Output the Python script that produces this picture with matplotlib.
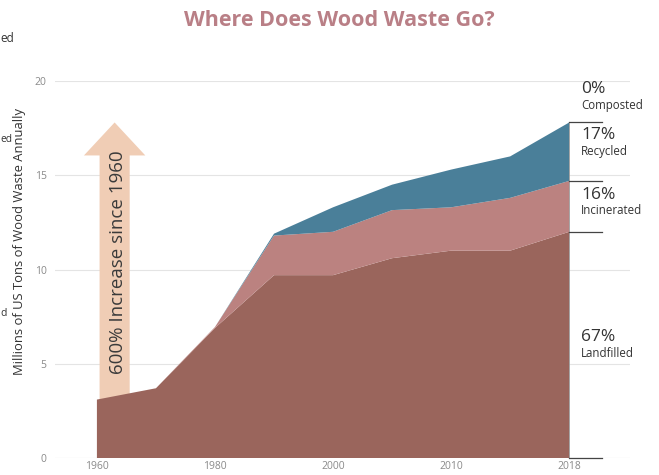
import matplotlib
matplotlib.use('Agg')
import matplotlib.pyplot as plt
from matplotlib.patches import FancyArrow
import numpy as np

# === DATA ===
years = ['1960', '1970', '1980', '1990', '2000', '2005', '2010', '2015', '2018']
landfilled = [3.1, 3.7, 6.9, 9.7, 9.7, 10.6, 11.0, 11.0, 12.0]
incinerated = [0.0, 0.0, 0.05, 2.1, 2.3, 2.55, 2.3, 2.8, 2.7]
recycled = [0.0, 0.0, 0.0, 0.1, 1.3, 1.35, 2.0, 2.2, 3.1]
composted = [0.0, 0.0, 0.0, 0.0, 0.0, 0.0, 0.0, 0.0, 0.0]
tick_years = ['1960', '1980', '2000', '2010', '2018']
shares = ['0%', '17%', '16%', '67%']
share_names = ['Composted', 'Recycled', 'Incinerated', 'Landfilled']

# === STYLE ===
C_LAND = '#9a655c'
C_INC = '#bb8280'
C_REC = '#4a7f99'
C_ARROW = '#f0cdb5'
plt.rcParams['font.family'] = ['Open Sans', 'DejaVu Sans']

fig = plt.figure(figsize=(6.59, 4.75), dpi=100)
ax = fig.add_axes([55 / 659, 17 / 475, 575 / 659, 377 / 475])

x = np.arange(len(years))
ax.stackplot(x, landfilled, incinerated, recycled, composted,
             colors=[C_LAND, C_INC, C_REC, C_REC], linewidth=0, zorder=1)
ax.set_xlim(-0.71, 9.03)
ax.set_ylim(0, 20)

# gridlines
for v in [5, 10, 15, 20]:
    ax.axhline(v, color='#e4e4e4', lw=0.8, zorder=0)
ax.axhline(0, color='#cfcfcf', lw=0.8, zorder=0)

total = np.sum([landfilled, incinerated, recycled, composted], axis=0)
ax.plot([x[-1], x[-1]], [0, total[-1]], color='#9a9a9a', lw=0.6, zorder=3)

for s in ax.spines.values():
    s.set_visible(False)
ax.tick_params(length=0, colors='#8a8a8a', labelsize=7.5)
ax.set_xticks([years.index(y) for y in tick_years])
ax.set_xticklabels(tick_years)
ax.set_yticks([0, 5, 10, 15, 20])
ax.set_yticklabels(['0', '5', '10', '15', '20'])
ax.tick_params(axis='x', pad=2)
ax.tick_params(axis='y', pad=6)
ax.set_ylabel('Millions of US Tons of Wood Waste Annually', fontsize=9.4,
              color='#333333')
ax.yaxis.set_label_coords(-29 / 575, 0.573)

# right-side markers
tops = np.cumsum([landfilled[-1], incinerated[-1], recycled[-1]])
for t in [0, tops[0], tops[1], tops[2]]:
    ax.plot([x[-1], x[-1] + 0.55], [t, t], color='#444444', lw=0.9,
            clip_on=False, zorder=4)

lx = x[-1] + 0.2
label_y = [20.0, tops[2] - 0.25, tops[1] - 0.3, 6.85]
for pct, name, yy in zip(shares, share_names, label_y):
    ax.text(lx, yy, pct, fontsize=12.5, color='#333333', va='top',
            clip_on=False)
    ax.text(lx, yy - 0.95, name, fontsize=8.3, color='#333333', va='top',
            clip_on=False)

# big arrow (sits behind the area so its foot tucks under the landfill band)
ax.add_patch(FancyArrow(0.3, 2.9, 0, 14.9, width=0.51, head_width=1.04,
                        head_length=1.75, length_includes_head=True,
                        color=C_ARROW, lw=0, zorder=0.5))
ax.text(0.36, 10.4, '600% Increase since 1960', rotation=90, fontsize=13.5,
        color='#3a3a3a', ha='center', va='center', zorder=3)

fig.text(339 / 659, 1 - 20 / 475, 'Where Does Wood Waste Go?', fontsize=15.5,
         fontweight='bold', color='#b97f86', ha='center', va='center')

# cropped fragments at left edge
fig.text(0.5 / 659, 1 - 38 / 475, 'ed', fontsize=8.5, color='#333333',
         ha='left', va='center')
fig.text(0.5 / 659, 1 - 140 / 475, 'ed', fontsize=7.3, color='#333333',
         ha='left', va='center')
fig.text(0.5 / 659, 1 - 313 / 475, 'd', fontsize=7.5, color='#333333',
         ha='left', va='center')

fig.savefig('out.png', dpi=100)
